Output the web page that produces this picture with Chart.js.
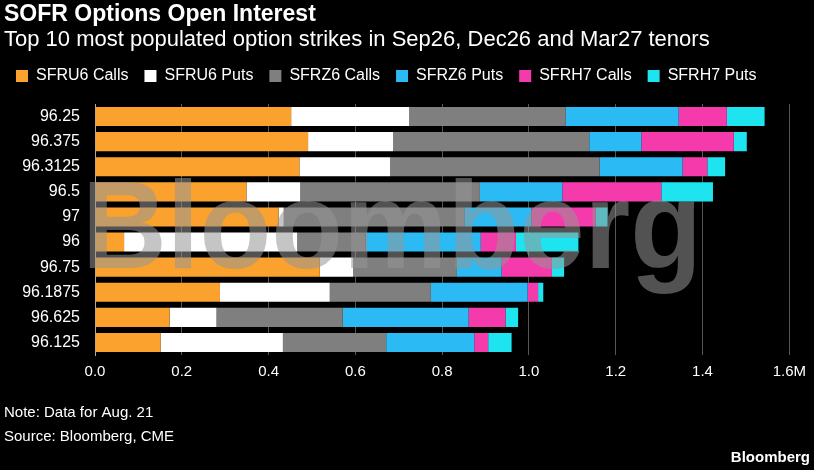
<!DOCTYPE html>
<html><head><meta charset="utf-8">
<script src="https://cdn.jsdelivr.net/npm/chart.js@4/dist/chart.umd.min.js"></script>
<style>
  html, body { margin: 0; background: #000; }
  #wrap { width: 814px; height: 470px; position: relative; }
</style>
</head><body>
<div id="wrap"><canvas id="c" width="814" height="470"></canvas></div>
<script>
const strikes = ['96.25', '96.375', '96.3125', '96.5', '97', '96', '96.75', '96.1875', '96.625', '96.125'];
const sfru6Calls = [0.452, 0.491, 0.471, 0.349, 0.423, 0.067, 0.518, 0.288, 0.172, 0.151];
const sfru6Puts  = [0.272, 0.196, 0.209, 0.124, 0.012, 0.399, 0.077, 0.253, 0.108, 0.282];
const sfrz6Calls = [0.361, 0.452, 0.483, 0.414, 0.416, 0.158, 0.239, 0.233, 0.291, 0.238];
const sfrz6Puts  = [0.260, 0.120, 0.191, 0.190, 0.155, 0.265, 0.103, 0.223, 0.290, 0.203];
const sfrh7Calls = [0.111, 0.213, 0.057, 0.228, 0.148, 0.081, 0.116, 0.024, 0.085, 0.032];
const sfrh7Puts  = [0.087, 0.030, 0.041, 0.119, 0.027, 0.144, 0.028, 0.012, 0.029, 0.054];
const xTicks = [0, 0.2, 0.4, 0.6, 0.8, 1.0, 1.2, 1.4, 1.6];

const font = "'Liberation Sans', Arial, sans-serif";

// extra gap under the legend
const legendGap = {
  id: 'legendGap',
  beforeInit(chart) {
    const fit = chart.legend.fit;
    chart.legend.fit = function () { fit.call(this); this.height += 10; };
  }
};

// big translucent watermark + header/footer text
const decor = {
  id: 'decor',
  afterDatasetsDraw(chart) {
    const ctx = chart.ctx;
    ctx.save();
    ctx.font = "bold 124px " + font;
    ctx.fillStyle = 'rgba(150,150,150,0.55)';
    ctx.textBaseline = 'alphabetic';
    ctx.fillText('Bloomberg', 82, 268, 620);
    ctx.restore();
  },
  afterDraw(chart) {
    const ctx = chart.ctx;
    ctx.save();
    ctx.fillStyle = '#fff';
    ctx.textBaseline = 'top';
    ctx.font = "bold 23px " + font;
    ctx.fillText('SOFR Options Open Interest', 4, 3);
    ctx.font = "22px " + font;
    ctx.fillText('Top 10 most populated option strikes in Sep26, Dec26 and Mar27 tenors', 4, 29, 708);
    ctx.font = "15px " + font;
    ctx.fillText('Note: Data for Aug. 21', 4, 405);
    ctx.fillText('Source: Bloomberg, CME', 4, 429);
    ctx.font = "bold 15px " + font;
    ctx.textAlign = 'right';
    ctx.fillText('Bloomberg', 810, 450);
    ctx.restore();
  }
};

const mk = (label, data, color) => ({ label, data, backgroundColor: color, borderWidth: 0,
  categoryPercentage: 0.76, barPercentage: 1 });

new Chart(document.getElementById('c'), {
  type: 'bar',
  data: {
    labels: strikes,
    datasets: [
      mk('SFRU6 Calls', sfru6Calls, '#fba22e'),
      mk('SFRU6 Puts', sfru6Puts, '#ffffff'),
      mk('SFRZ6 Calls', sfrz6Calls, '#7f7f7f'),
      mk('SFRZ6 Puts', sfrz6Puts, '#2bbaf4'),
      mk('SFRH7 Calls', sfrh7Calls, '#f53aab'),
      mk('SFRH7 Puts', sfrh7Puts, '#1ee4f0')
    ]
  },
  options: {
    indexAxis: 'y',
    responsive: false,
    animation: false,
    layout: { padding: { top: 52, left: 0, right: 24, bottom: 81 } },
    plugins: {
      legend: {
        position: 'top', align: 'start',
        labels: { color: '#fff', boxWidth: 12, boxHeight: 12, padding: 16, font: { family: font, size: 16 } }
      },
      tooltip: { enabled: false }
    },
    scales: {
      x: {
        stacked: true, min: 0, max: 1.6,
        grid: { color: '#555', drawTicks: false },
        border: { display: false },
        afterBuildTicks: ax => { ax.ticks = xTicks.map(v => ({ value: v })); },
        ticks: {
          color: '#fff', padding: 8, font: { family: font, size: 15 },
          callback: v => v === 1.6 ? '1.6M' : v.toFixed(1)
        }
      },
      y: {
        stacked: true,
        afterFit: ax => { ax.width = 95; },
        grid: { display: false },
        border: { display: true, color: '#aaa' },
        ticks: { color: '#fff', padding: 7, font: { family: font, size: 16 } }
      }
    }
  },
  plugins: [legendGap, decor]
});
</script>
</body></html>
